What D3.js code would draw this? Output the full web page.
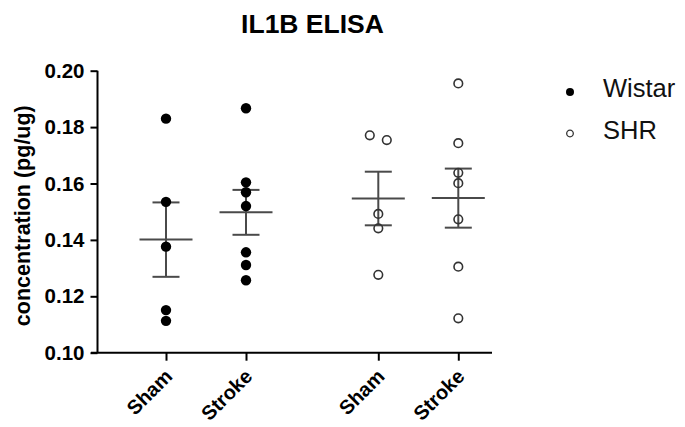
<!DOCTYPE html>
<html>
<head>
<meta charset="utf-8">
<script src="https://cdn.jsdelivr.net/npm/d3@7"></script>
<style>
  body { margin: 0; background: #fff; }
  text { font-family: "Liberation Sans", Arial, sans-serif; }
</style>
</head>
<body>
<div id="graf"></div>
<script>
// Datos
const strains = ["Wistar", "SHR"]
const conditions = ["Sham", "Stroke"]
const wistarSham = [0.183, 0.1535, 0.1376, 0.1151, 0.1113]
const wistarStroke = [0.1867, 0.1604, 0.1569, 0.152, 0.1356, 0.1311, 0.1257]
const shrSham = [0.1771, 0.1754, 0.1492, 0.1441, 0.1276]
const shrStroke = [0.1955, 0.1743, 0.1638, 0.1601, 0.1473, 0.1305, 0.1122]
const yTicks = [0.1, 0.12, 0.14, 0.16, 0.18, 0.2]

const groups = [
  { strain: "Wistar", condition: "Sham", values: wistarSham },
  { strain: "Wistar", condition: "Stroke", values: wistarStroke },
  { strain: "SHR", condition: "Sham", values: shrSham },
  { strain: "SHR", condition: "Stroke", values: shrStroke },
]

const ancho = 685
const alto = 427

const svg = d3
  .select("#graf")
  .append("svg")
  .attr("width", ancho)
  .attr("height", alto)

// Escaladores
const xOuter = d3.scalePoint().domain(strains).range([206, 418.3])
const xInner = d3.scalePoint().domain(conditions).range([-40, 40])
const keys = groups.map((d) => d.strain + "|" + d.condition)
const x = d3
  .scaleOrdinal()
  .domain(keys)
  .range(groups.map((d) => xOuter(d.strain) + xInner(d.condition)))
const y = d3.scaleLinear().domain([0.1, 0.2]).range([352.7, 70.7])

// Titulo
svg
  .append("text")
  .attr("x", 312.5)
  .attr("y", 33)
  .attr("text-anchor", "middle")
  .style("font-weight", "bold")
  .style("font-size", "26.5px")
  .text("IL1B ELISA")

// Ejes
const yAxis = d3
  .axisLeft(y)
  .tickValues(yTicks)
  .tickFormat(d3.format(".2f"))
  .tickSize(7)
  .tickPadding(6)
const yAxisGroup = svg.append("g").attr("transform", "translate(97.5,0)").call(yAxis)
yAxisGroup.select(".domain").attr("d", `M0,${y(0.2)}V${y(0.1)}`)

const xAxis = d3
  .axisBottom(x)
  .tickSize(8)
  .tickFormat((d) => d.split("|")[1])
const xAxisGroup = svg.append("g").attr("transform", `translate(0,${y(0.1)})`).call(xAxis)
xAxisGroup.select(".domain").attr("d", "M91,0H492")

svg.selectAll(".domain, .tick line").attr("stroke", "#000").attr("stroke-width", 2)
yAxisGroup
  .selectAll("text")
  .style("font-size", "20.5px")
  .style("font-weight", "bold")
  .attr("fill", "#000")
xAxisGroup
  .selectAll("text")
  .attr("y", 0)
  .attr("dy", 0)
  .attr("transform", "translate(7,25) rotate(-45)")
  .attr("text-anchor", "end")
  .style("font-size", "20px")
  .style("font-weight", "bold")
  .attr("fill", "#000")

svg
  .append("text")
  .attr("transform", `translate(30,${(y(0.1) + y(0.2)) / 2 + 4}) rotate(-90)`)
  .attr("text-anchor", "middle")
  .style("font-weight", "bold")
  .style("font-size", "21.5px")
  .text("concentration (pg/ug)")

// Media y error estandar
const lineColor = "#4a4a4a"
groups.forEach((gr) => {
  const cx = x(gr.strain + "|" + gr.condition)
  const m = d3.mean(gr.values)
  const sem = d3.deviation(gr.values) / Math.sqrt(gr.values.length)
  const g = svg.append("g").attr("stroke", lineColor).attr("stroke-width", 2)
  g.append("line").attr("x1", cx - 26.5).attr("x2", cx + 26.5).attr("y1", y(m)).attr("y2", y(m))
  g.append("line").attr("x1", cx).attr("x2", cx).attr("y1", y(m + sem)).attr("y2", y(m - sem))
  ;[m + sem, m - sem].forEach((v) => {
    g.append("line").attr("x1", cx - 13.5).attr("x2", cx + 13.5).attr("y1", y(v)).attr("y2", y(v))
  })
})

// Puntos (separa los que se solapan)
const puntos = []
groups.forEach((gr) => {
  const cx = x(gr.strain + "|" + gr.condition)
  const sorted = gr.values.slice().sort((a, b) => b - a)
  let cluster = []
  const flush = () => {
    cluster.forEach((v, i) => {
      puntos.push({ strain: gr.strain, v, cx: cx + (i - (cluster.length - 1) / 2) * 17 })
    })
    cluster = []
  }
  sorted.forEach((v) => {
    if (cluster.length && y(v) - y(cluster[cluster.length - 1]) >= 9) flush()
    cluster.push(v)
  })
  flush()
})

svg
  .selectAll("circle.punto")
  .data(puntos)
  .enter()
  .append("circle")
  .attr("class", "punto")
  .attr("cx", (d) => d.cx)
  .attr("cy", (d) => y(d.v))
  .attr("r", (d) => (d.strain === "Wistar" ? 5.2 : 4.3))
  .attr("fill", (d) => (d.strain === "Wistar" ? "#000" : "none"))
  .attr("stroke", (d) => (d.strain === "Wistar" ? "none" : "#333"))
  .attr("stroke-width", 1.6)

// Leyenda
const leyenda = svg
  .selectAll("g.leyenda")
  .data(strains)
  .enter()
  .append("g")
  .attr("class", "leyenda")
  .attr("transform", (d, i) => `translate(570,${92 + i * 41.5})`)
leyenda
  .append("circle")
  .attr("r", (d) => (d === "Wistar" ? 4 : 3.3))
  .attr("fill", (d) => (d === "Wistar" ? "#000" : "none"))
  .attr("stroke", (d) => (d === "Wistar" ? "none" : "#333"))
  .attr("stroke-width", 1.3)
leyenda
  .append("text")
  .attr("x", 33)
  .attr("y", 5)
  .style("font-size", "25.5px")
  .attr("fill", "#111")
  .text((d) => d)
</script>
</body>
</html>
